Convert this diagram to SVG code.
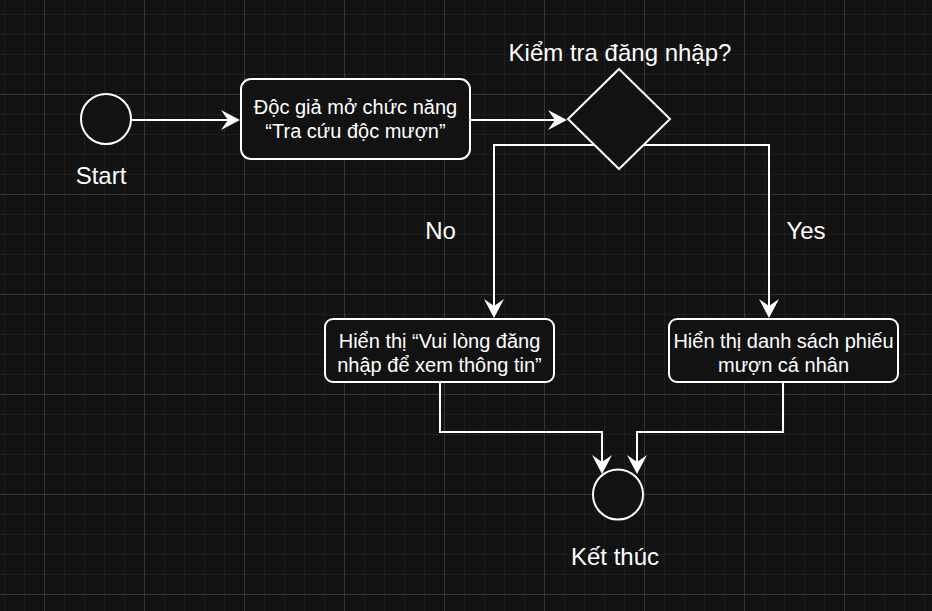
<svg xmlns="http://www.w3.org/2000/svg" width="932" height="611" viewBox="0 0 932 611">
<style>
  .bg { fill: #121212; }
  .shape { fill: #121212; stroke: #ffffff; stroke-width: 2; }
  .edge { fill: none; stroke: #ffffff; stroke-width: 2; }
  .t { fill: #ffffff; font-family: "Liberation Sans", Arial, "Noto Sans", sans-serif; text-anchor: middle; }
  .box { font-size: 20px; }
  .lbl { font-size: 24px; }
</style>
<defs>
  <pattern id="grid" patternUnits="userSpaceOnUse" x="44" y="94" width="100" height="100">
    <rect width="100" height="100" fill="#121212"/>
    <g fill="#1e1e1e">
      <rect x="20" y="0" width="1" height="100"/>
      <rect x="40" y="0" width="1" height="100"/>
      <rect x="60" y="0" width="1" height="100"/>
      <rect x="80" y="0" width="1" height="100"/>
      <rect x="0" y="20" width="100" height="1"/>
      <rect x="0" y="40" width="100" height="1"/>
      <rect x="0" y="60" width="100" height="1"/>
      <rect x="0" y="80" width="100" height="1"/>
    </g>
    <g fill="#363636">
      <rect x="0" y="0" width="1" height="100"/>
      <rect x="0" y="0" width="100" height="1"/>
    </g>
  </pattern>
  <marker id="arrow" markerUnits="userSpaceOnUse" viewBox="0 0 20 20" refX="7" refY="10" markerWidth="20" markerHeight="20" orient="auto">
    <path d="M0,0 L19,10 L0,20 L7,10 Z" fill="#ffffff"/>
  </marker>
</defs>
<rect class="bg" x="0" y="0" width="932" height="611"/>
<rect x="0" y="0" width="932" height="611" fill="url(#grid)"/>

<g id="connectors">
  <path class="edge" d="M131,120 H228" marker-end="url(#arrow)"/>
  <path class="edge" d="M470,120 H555" marker-end="url(#arrow)"/>
  <path class="edge" d="M619,145 H494 V306" marker-end="url(#arrow)"/>
  <path class="edge" d="M619,145 H769 V306" marker-end="url(#arrow)"/>
  <path class="edge" d="M440,382 V432 H602 V462" marker-end="url(#arrow)"/>
  <path class="edge" d="M783,382 V432 H637 V462" marker-end="url(#arrow)"/>
</g>

<g id="start">
  <circle class="shape" cx="106" cy="119" r="25"/>
  <text class="t lbl" x="101" y="184">Start</text>
</g>

<g id="open-function">
  <rect class="shape" x="241" y="79" width="229" height="80" rx="10"/>
  <text class="t box" x="355.5" y="114">Độc giả mở chức năng</text>
  <text class="t box" x="355.5" y="138">“Tra cứu độc mượn”</text>
</g>

<g id="check-login">
  <path class="shape" d="M619,69 L670,119 L619,169 L568,119 Z"/>
  <text class="t lbl" x="620" y="61">Kiểm tra đăng nhập?</text>
</g>

<g id="label-no">
  <text class="t lbl" x="440.5" y="239">No</text>
</g>

<g id="label-yes">
  <text class="t lbl" x="806" y="239">Yes</text>
</g>

<g id="login-message">
  <rect class="shape" x="325" y="319" width="229" height="63" rx="8"/>
  <text class="t box" x="439.5" y="348">Hiển thị “Vui lòng đăng</text>
  <text class="t box" x="439.5" y="372">nhập để xem thông tin”</text>
</g>

<g id="show-list">
  <rect class="shape" x="669" y="319" width="229" height="63" rx="8"/>
  <text class="t box" x="783.5" y="348">Hiển thị danh sách phiếu</text>
  <text class="t box" x="783.5" y="372">mượn cá nhân</text>
</g>

<g id="end">
  <circle class="shape" cx="618" cy="494.5" r="25"/>
  <text class="t lbl" x="615" y="565">Kết thúc</text>
</g>
</svg>
